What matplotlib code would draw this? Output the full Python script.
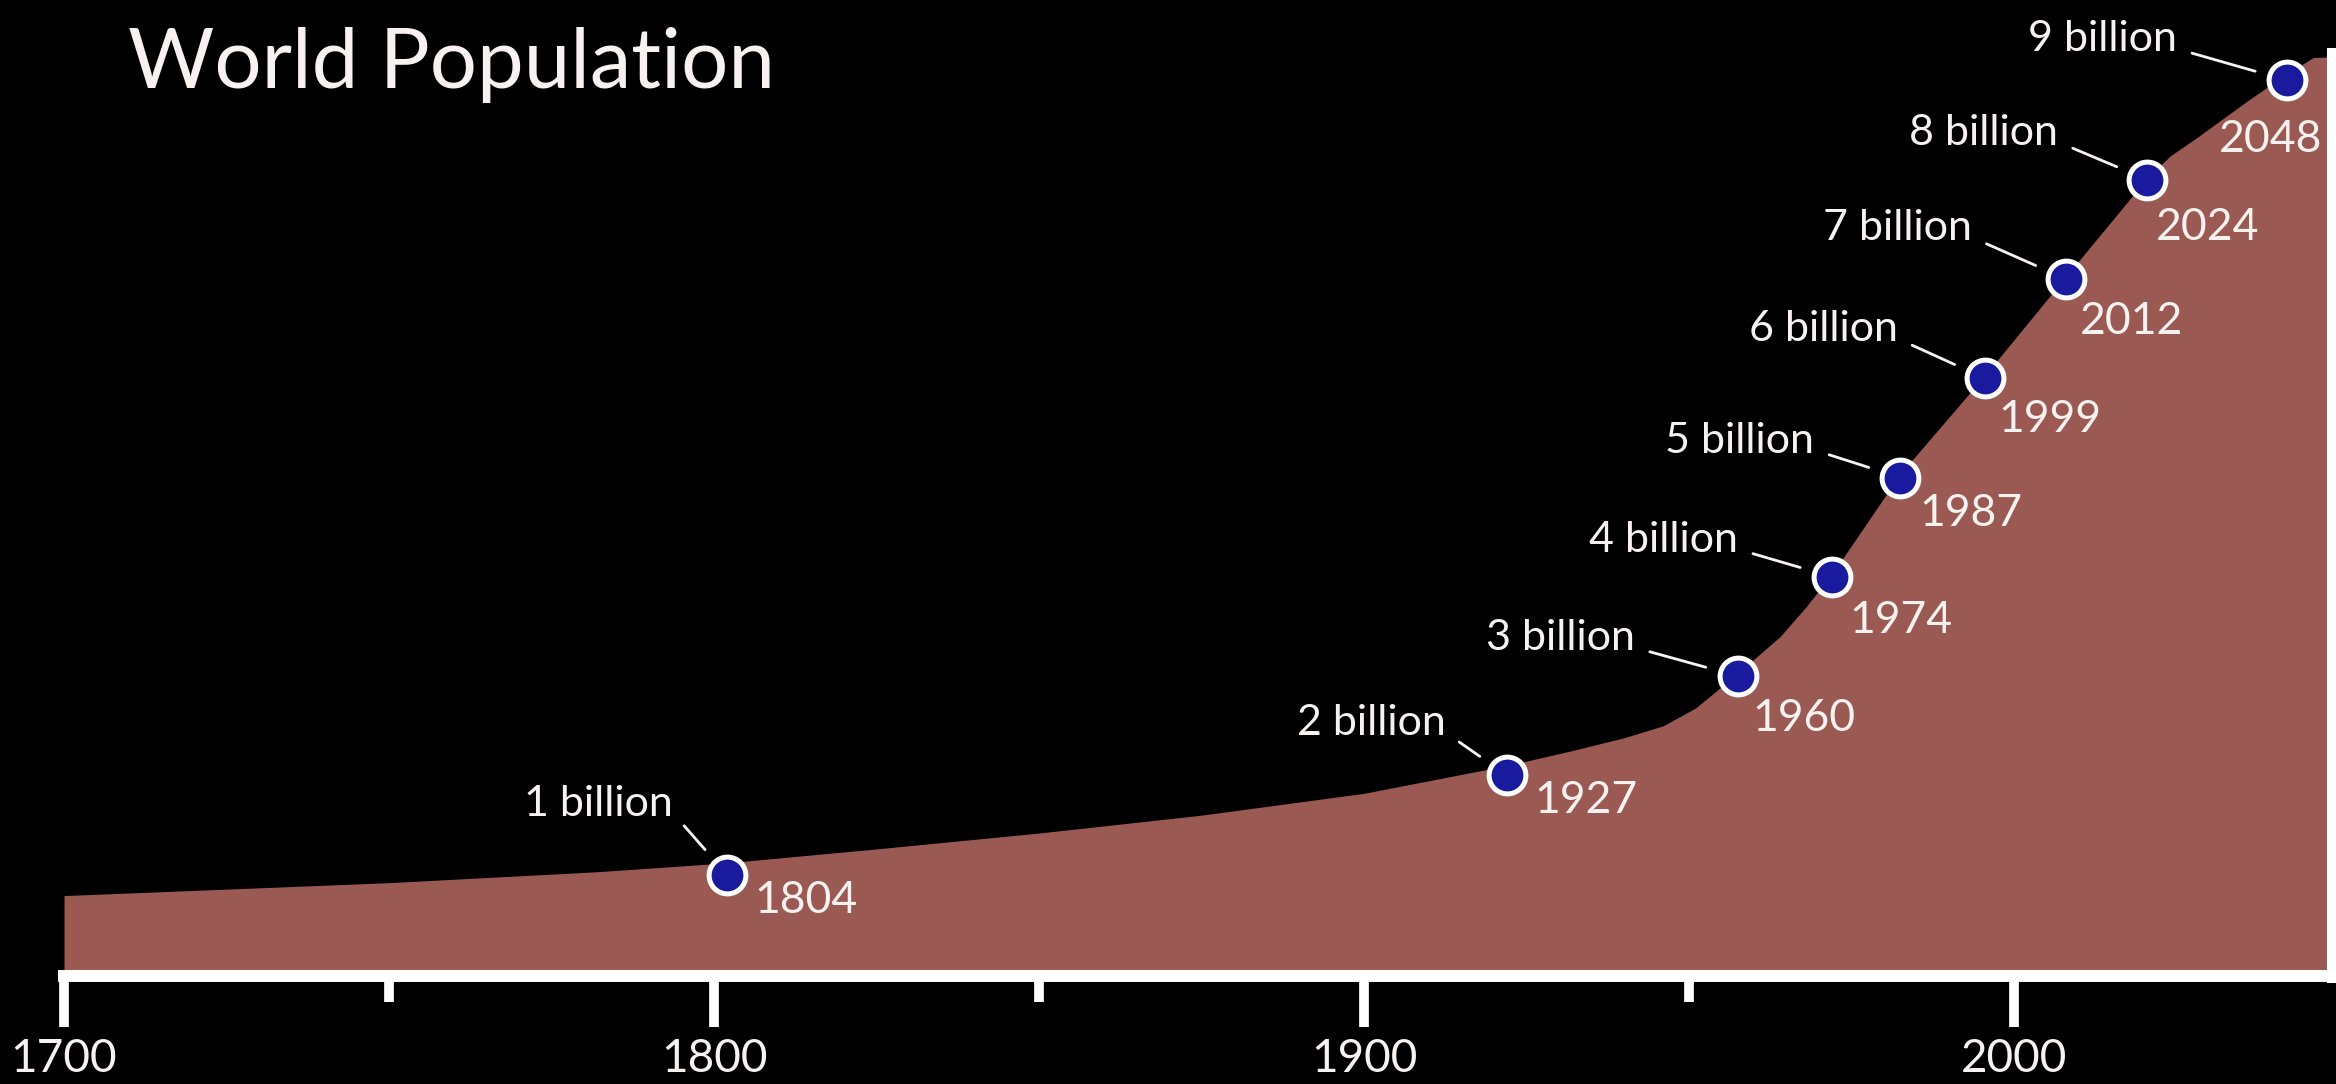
import matplotlib
matplotlib.use("Agg")
import matplotlib.pyplot as plt

# curve of world population (billions)
years = [1700, 1750, 1782, 1802, 1825, 1850, 1875, 1900, 1922, 1932, 1940, 1946, 1951,
         1957.5, 1964, 1968, 1972, 1982.5, 1995.5, 2008, 2020.5, 2024, 2028, 2036,
         2042, 2046, 2049.5]
population = [0.79, 0.92, 1.03, 1.12, 1.26, 1.42, 1.60, 1.82, 2.10, 2.25, 2.38, 2.50, 2.68,
              3.03, 3.40, 3.70, 4.03, 5.04, 6.03, 7.03, 8.02, 8.24, 8.42, 8.80,
              9.07, 9.23, 9.24]

# milestones
milestone_x = [1802, 1922, 1957.5, 1972, 1982.5, 1995.5, 2008, 2020.5, 2042]
milestone_billions = [1, 2, 3, 4, 5, 6, 7, 8, 9]
milestone_years = ["1804", "1927", "1960", "1974", "1987", "1999", "2012", "2024", "2048"]

major_ticks = [1700, 1800, 1900, 2000]
minor_ticks = [1750, 1850, 1950]

fill_color = "#9a5a53"
dot_color = "#1a1a9e"
text_color = "#f7f2f0"

plt.rcParams['font.family'] = ['Lato', 'DejaVu Sans']

fig = plt.figure(figsize=(23.36, 10.84), dpi=100, facecolor="black")
ax = fig.add_axes([0, 108 / 1084, 1, 976 / 1084])
ax.set_facecolor("black")

ax.fill_between(years, 0, population, color=fill_color, lw=0, zorder=1)
ax.plot(milestone_x, milestone_billions, "o", ms=26.5, mfc=dot_color, mec="white",
        mew=3.6, zorder=5)

# label offsets in pixels (text end / baseline relative to the dot)
billion_off = [(-54, 59), (-61, 40), (-103, 26), (-94, 25), (-86, 25),
               (-87, 37), (-94, 39), (-89, 35), (-110, 29)]
year_off = [(27, -38), (27, -38), (14, -55), (17, -56), (19, -48),
            (13, -54), (14, -55), (8, -60), (-68, -72)]

for i in range(len(milestone_x)):
    ax.annotate(f"{milestone_billions[i]} billion", (milestone_x[i], milestone_billions[i]),
                xytext=billion_off[i], textcoords="offset pixels",
                ha="right", va="baseline", fontsize=31, color=text_color,
                arrowprops=dict(arrowstyle="-", color=text_color, lw=2.0,
                                relpos=(1.0, 0.25), shrinkA=9, shrinkB=24),
                zorder=6)
    ax.annotate(milestone_years[i], (milestone_x[i], milestone_billions[i]),
                xytext=year_off[i], textcoords="offset pixels",
                ha="left", va="baseline", fontsize=32, color=text_color, zorder=6)

ax.set_xlim(1690.15, 2049.5)
ax.set_ylim(-0.02, 9.81)

for s in ["top", "left"]:
    ax.spines[s].set_visible(False)
ax.spines["bottom"].set_color("white")
ax.spines["bottom"].set_linewidth(8.6)
ax.spines["bottom"].set_bounds(1700, 2049.5)
ax.spines["right"].set_color("white")
ax.spines["right"].set_linewidth(13)
ax.spines["right"].set_bounds(0, 9.24)

ax.set_yticks([])
ax.set_xticks(major_ticks)
ax.set_xticks(minor_ticks, minor=True)
ax.set_xticklabels([str(t) for t in major_ticks])
ax.tick_params(axis="x", which="major", length=37, width=7, color="white",
               labelcolor=text_color, labelsize=33, pad=8)
ax.tick_params(axis="x", which="minor", length=19, width=7, color="white")

fig.text(128 / 2336, 1 - 88 / 1084, "World Population", ha="left", va="baseline",
         fontsize=60, color=text_color)

fig.savefig("out.png", dpi=100, facecolor="black")
